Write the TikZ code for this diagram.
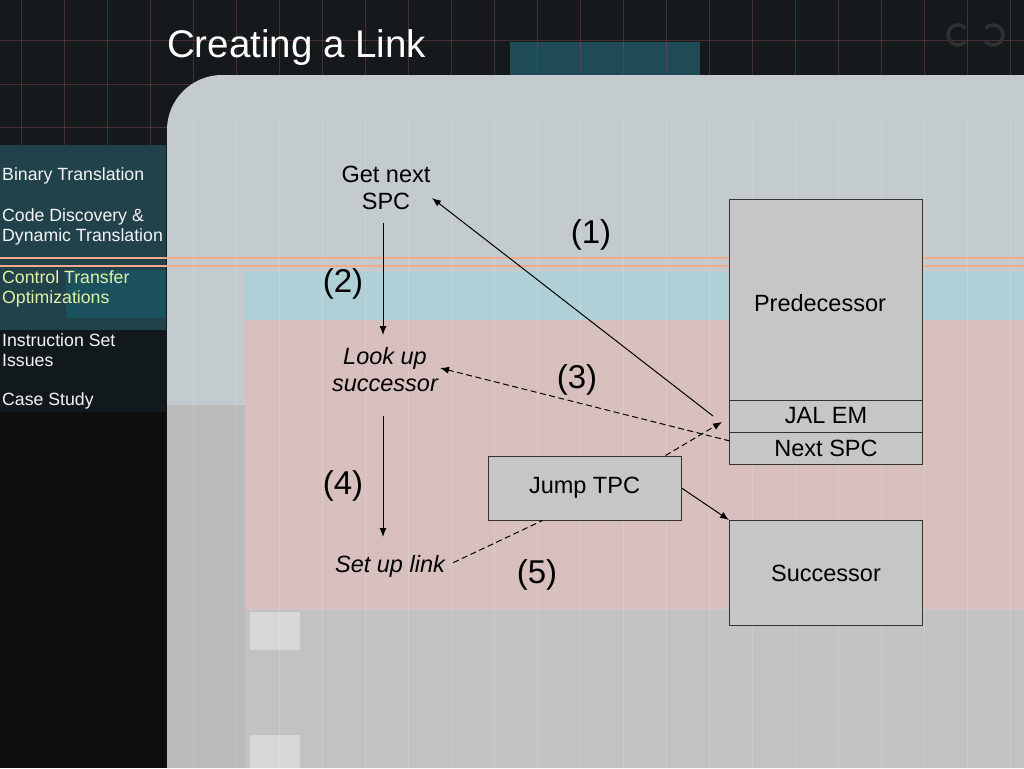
\documentclass[tikz,border=0pt]{standalone}
\usepackage{fontspec}
\setmainfont{Liberation Sans}
\usepackage{tikz}
\usetikzlibrary{arrows.meta,calc,positioning}
\definecolor{slidebg}{HTML}{16191C}
\definecolor{topteal}{HTML}{1F4B56}
\definecolor{sideteal}{HTML}{21414B}
\definecolor{sideteal2}{HTML}{1C5160}
\definecolor{sidedark}{HTML}{12191C}
\definecolor{sideblack}{HTML}{0E0E0E}
\definecolor{gridred}{HTML}{7A4A4A}
\definecolor{panel}{HTML}{C3CBCE}
\definecolor{tealband}{HTML}{AED0D6}
\definecolor{pinkband}{HTML}{D2C3C2}
\definecolor{pinkline}{HTML}{E6B9B3}
\definecolor{peach}{HTML}{F2A98C}
\definecolor{greycol}{HTML}{BBBBBB}
\definecolor{greylow}{HTML}{C2C2C2}
\definecolor{boxfill}{HTML}{C6C6C6}
\definecolor{navon}{HTML}{E2F2A4}
\definecolor{navbtn}{HTML}{2E3032}
\tikzset{
	blk/.style={draw=black!80,fill=boxfill,line width=1pt,inner sep=0pt,
		font=\fontsize{23.5}{26}\selectfont},
	steptext/.style={align=center,inner sep=1pt,font=\fontsize{23.5}{26.5}\selectfont},
	stepit/.style={steptext,font=\fontsize{23.5}{27}\selectfont\itshape},
	num/.style={font=\fontsize{33}{36}\selectfont,inner sep=0pt},
	flow/.style={line width=1pt,-{Latex[length=9pt,width=7pt]}},
	dflow/.style={flow,dash pattern=on 6pt off 3.5pt},
	navitem/.style={anchor=west,align=left,text=white!92!gray,inner sep=0pt,
		font=\fontsize{17.7}{20.5}\selectfont},
}

\begin{document}
\begin{tikzpicture}[x=1pt,y=-1pt]
  \useasboundingbox (0,0) rectangle (1024,768);
  % background
  \fill[slidebg] (0,0) rectangle (1024,768);
  \fill[topteal] (510,42) rectangle (700,78);
  \fill[sideteal] (0,145) rectangle (166,330);
  \fill[sideteal2] (66,270) rectangle (166,318);
  \fill[sidedark] (0,330) rectangle (166,412);
  \fill[sideblack] (0,412) rectangle (166,768);
  \foreach \gx in {21,64,107,150,193,236,279,322,365,408,451,494,537,580,623,666,709,752,795,838,881,924,967,1010}
    \draw[gridred,opacity=.5,line width=0.5pt] (\gx,0) -- (\gx,145);
  \foreach \gy in {40,84,127}
    \draw[gridred,opacity=.5,line width=0.5pt] (0,\gy) -- (1024,\gy);
  % panel
  \fill[panel] (167,768) -- (167,130) arc (180:90:55pt) -- (1024,75) -- (1024,768) -- cycle;
  \fill[tealband] (245,272) rectangle (1024,320);
  \fill[pinkband] (245,320) rectangle (1024,610);
  \foreach \sy in {322,326,...,606}
    \draw[pinkline,opacity=.55,line width=1.2pt] (245,\sy) -- (1024,\sy);
  \fill[greycol] (167,405) rectangle (245,768);
  \fill[greylow] (245,610) rectangle (1024,768);
  \fill[white,opacity=.35] (250,612) rectangle (300,650);
  \fill[white,opacity=.35] (250,735) rectangle (300,768);
  \foreach \gx in {193,236,279,322,365,408,451,494,537,580,623,666,709,752,795,838,881,924,967,1010}
    \draw[white,opacity=.15,line width=0.5pt] (\gx,120) -- (\gx,768);
  \draw[peach,line width=1.2pt] (0,258) -- (1024,258);
  \draw[peach,line width=1.2pt] (0,266) -- (1024,266);
  % title and nav buttons
  \node[text=white,anchor=west,inner sep=0pt,font=\fontsize{38.5}{42}\selectfont] (title) at (167,48) {Creating a Link};
  \draw[navbtn,line width=3.5pt] (958,35) ++(40:10) arc (40:320:10);
  \draw[navbtn,line width=3.5pt] (993,35) ++(220:10) arc (220:500:10);
  % side menu
  \node[navitem] (nav1) at (2,176) {Binary Translation};
  \node[navitem] (nav2) at (2,227) {Code Discovery \&\\Dynamic Translation};
  \node[navitem,text=navon] (nav3) at (2,289) {Control Transfer\\Optimizations};
  \node[navitem] (nav4) at (2,350) {Instruction Set\\Issues};
  \node[navitem] (nav5) at (2,401) {Case Study};
  % steps
  \node[steptext] (getspc) at (386,188) {Get next\\SPC};
  \node[stepit] (lookup) at (385,370) {Look up\\successor};
  \node[stepit] (setup) at (390,566) {Set up link};
  % blocks
  \node[blk,minimum width=193pt,minimum height=201pt] (pred) at (826,299.5) {};
  \node[font=\fontsize{23.5}{26}\selectfont] (predtxt) at (820,303) {Predecessor};
  \node[blk,minimum width=193pt,minimum height=32pt] (jal) at (826,416) {JAL EM};
  \node[blk,minimum width=193pt,minimum height=32pt] (nextspc) at (826,448) {Next SPC};
  \node[blk,minimum width=193pt,minimum height=64pt] (jump) at (584.5,488) {Jump TPC};
  \node[blk,minimum width=193pt,minimum height=105pt] (succ) at (826,573) {Successor};
  % connectors
  \coordinate (c1) at (713,416);
  \coordinate (c3) at (730,441);
  \coordinate (cj) at (722,422);
  \coordinate (c2a) at (383,223);
  \coordinate (c2b) at (383,335);
  \coordinate (c4a) at (383,416);
  \coordinate (c4b) at (383,537);
  \coordinate (c1b) at (432,198);
  \coordinate (c3b) at (440,368);
  \coordinate (jtop) at ($(jump.north east)+(-16,0)$);
  \coordinate (jbot) at ($(jump.south west)+(55,0)$);
  \draw[flow] (c2a) -- (c2b);
  \draw[flow] (c4a) -- (c4b);
  \draw[flow] (c1) -- (c1b);
  \draw[dflow] (c3) -- (c3b);
  \draw[dflow] (jtop) -- (cj);
  \draw[flow] (jump.east) -- (succ.north west);
  \draw[line width=1pt,dash pattern=on 6pt off 3.5pt,shorten <=8pt] (setup.east) -- (jbot);
  % step numbers
  \node[num] (n1) at (591,235) {(1)};
  \node[num] (n2) at (343,284) {(2)};
  \node[num] (n3) at (577,380) {(3)};
  \node[num] (n4) at (343,486) {(4)};
  \node[num] (n5) at (537,575) {(5)};
\end{tikzpicture}
\end{document}
